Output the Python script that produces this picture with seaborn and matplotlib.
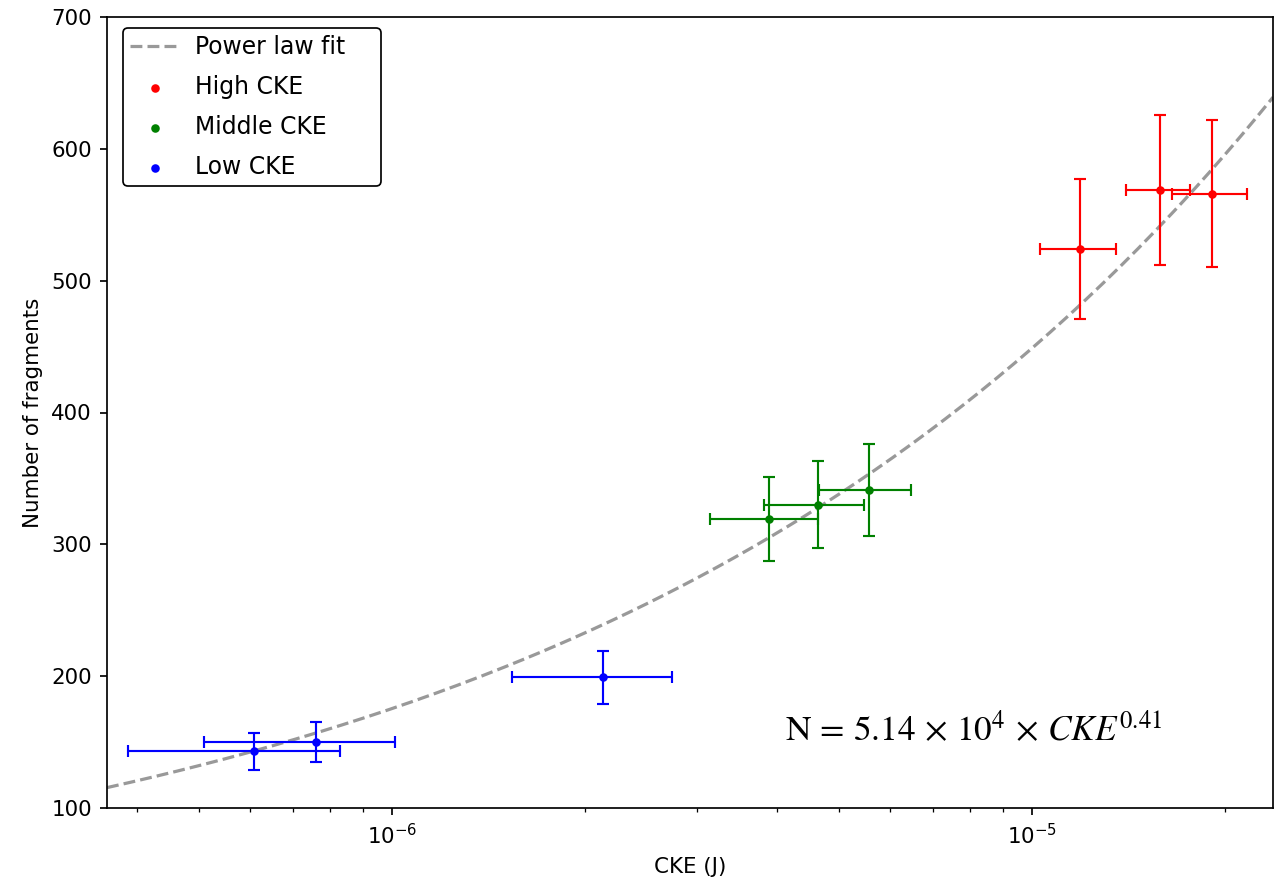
import numpy as np
import pandas as pd
import matplotlib
matplotlib.use("Agg")
import matplotlib.pyplot as plt
import seaborn as sns

# -----------------------------
# Data
# -----------------------------
low_cke = [6.09e-7, 7.61e-7, 2.14e-6]
low_n = [143, 150, 199]
low_cke_err = [2.22e-7, 2.52e-7, 6.0e-7]
low_n_err = [14, 15, 20]

mid_cke = [3.89e-6, 4.64e-6, 5.56e-6]
mid_n = [319, 330, 341]
mid_cke_err = [7.5e-7, 8.3e-7, 9.1e-7]
mid_n_err = [32, 33, 35]

high_cke = [1.19e-5, 1.585e-5, 1.91e-5]
high_n = [524, 569, 566]
high_cke_err = [1.62e-6, 1.8e-6, 2.55e-6]
high_n_err = [53, 57, 56]

# power law curve as drawn (N = A * CKE^b)
fit_a = 4.92e4
fit_b = 0.408
x_lim = (3.59e-7, 2.38e-5)

fit_x = np.logspace(np.log10(x_lim[0]), np.log10(x_lim[1]), 200)
fit_df = pd.DataFrame({"CKE": fit_x, "N": fit_a * fit_x ** fit_b})

# -----------------------------
# Plot
# -----------------------------
fig = plt.figure(figsize=(1286 / 154, 887 / 154), dpi=154)
ax = fig.add_axes([107 / 1286, 79 / 887, 1166 / 1286, 791 / 887])

sns.lineplot(data=fit_df, x="CKE", y="N", ax=ax, color="gray", alpha=0.8,
             linestyle="--", linewidth=1.5, label="Power law fit", zorder=1)

groups = [
    ("High CKE", "red", high_cke, high_n, high_cke_err, high_n_err),
    ("Middle CKE", "green", mid_cke, mid_n, mid_cke_err, mid_n_err),
    ("Low CKE", "blue", low_cke, low_n, low_cke_err, low_n_err),
]

for name, col, xs, ys, xe, ye in groups:
    ax.errorbar(xs, ys, xerr=xe, yerr=ye, fmt="none", ecolor=col,
                elinewidth=1, capsize=3, capthick=1, zorder=2)
    sns.scatterplot(x=xs, y=ys, ax=ax, color=col, s=16, linewidth=0,
                    label=name, zorder=3)

ax.set_xscale("log")
ax.set_xlim(*x_lim)
ax.set_ylim(100, 700)
ax.set_xlabel("CKE (J)")
ax.set_ylabel("Number of fragments")

# legend box is wider than its text in the reference
leg = ax.legend(loc="upper left", bbox_to_anchor=(0.0137, 0, 0.2213, 0.986),
                mode="expand", borderaxespad=0, edgecolor="black",
                framealpha=1, fontsize=11, labelspacing=0.68, borderpad=0.3,
                handlelength=2.1, handletextpad=0.65)
leg.get_frame().set_linewidth(0.8)

ax.text(0.5815, 0.0847,
        r"$\mathrm{N}\,=\,5.14\,\times\,10^{4}\,\times\,CKE^{0.41}$",
        transform=ax.transAxes, fontsize=16.5, math_fontfamily="stix",
        va="baseline", ha="left")

plt.savefig("out.png", dpi=154)
